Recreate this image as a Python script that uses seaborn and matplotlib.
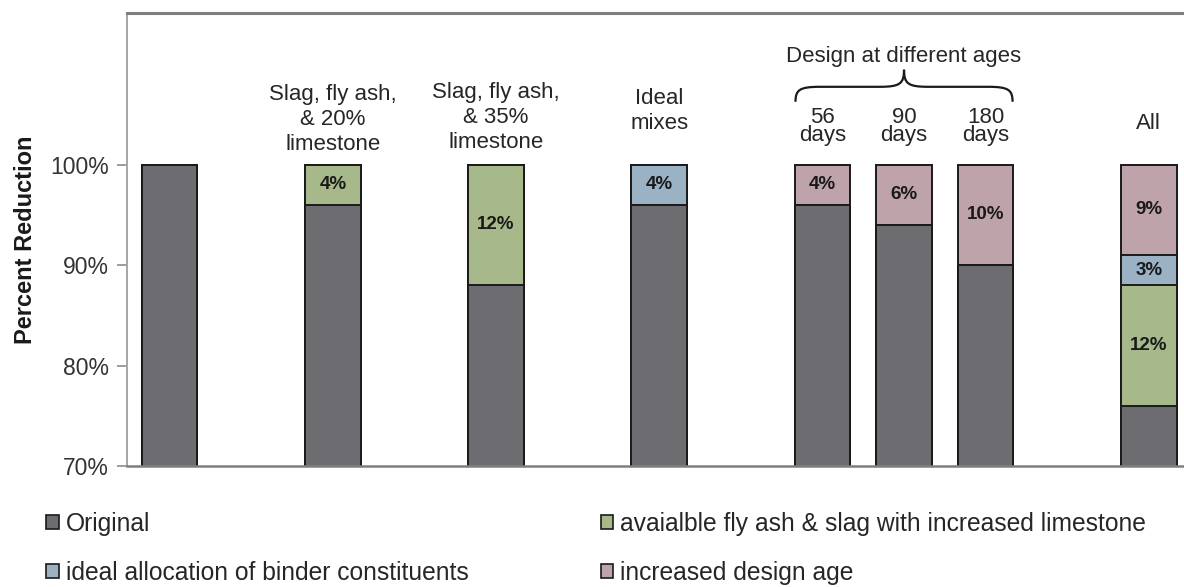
import matplotlib
matplotlib.use("Agg")
import matplotlib.pyplot as plt
from matplotlib.path import Path
from matplotlib.patches import PathPatch, Patch
from matplotlib.ticker import FuncFormatter
import numpy as np
import pandas as pd
import seaborn as sns

# ---- data -------------------------------------------------------------
positions = [0, 2, 4, 6, 8, 9, 10, 12]
group_labels = ["", "Slag, fly ash,\n& 20%\nlimestone", "Slag, fly ash,\n& 35%\nlimestone",
                "Ideal\nmixes", "56\ndays", "90\ndays", "180\ndays", "All"]
original = [100, 96, 88, 96, 96, 94, 90, 76]
fly_ash_slag = [0, 4, 12, 0, 0, 0, 0, 12]
ideal_alloc = [0, 0, 0, 4, 0, 0, 0, 3]
design_age = [0, 0, 0, 0, 4, 6, 10, 9]
series_names = ["Original", "avaialble fly ash & slag with increased limestone",
                "ideal allocation of binder constituents", "increased design age"]
yticks = [70, 80, 90, 100]
bracket_title = "Design at different ages"

# ---- style ------------------------------------------------------------
sns.set_theme(style="white")
plt.rcParams["font.family"] = ["Liberation Sans", "DejaVu Sans"]
plt.rcParams["text.color"] = "#262626"

colors = {
    "Original": "#6d6c71",
    "fly": "#a7b98a",
    "ideal": "#9ab2c3",
    "age": "#bfa3aa",
}

df = pd.DataFrame({
    "pos": positions,
    "original": original,
    "fly": fly_ash_slag,
    "ideal": ideal_alloc,
    "age": design_age,
})
df["c1"] = df["original"]
df["c2"] = df["c1"] + df["fly"]
df["c3"] = df["c2"] + df["ideal"]
df["c4"] = df["c3"] + df["age"]

fig = plt.figure(figsize=(11.84, 5.87), dpi=100)
ax = fig.add_axes([0.107, 0.2061, 0.895, 0.7718])

# stacked bars: draw cumulative totals from the top layer down
layers = [("c4", colors["age"]), ("c3", colors["ideal"]),
          ("c2", colors["fly"]), ("c1", colors["Original"])]
for col, colr in layers:
    sns.barplot(data=df, x="pos", y=col, native_scale=True, color=colr,
                edgecolor="#1a1a1a", linewidth=1.4, width=0.68,
                errorbar=None, saturation=1, ax=ax)

ax.set_xlim(-0.526, 12.46)
ax.set_ylim(70, 115.1)
ax.set_xticks([])
ax.set_xlabel("")
ax.set_yticks(yticks)
ax.yaxis.set_major_formatter(FuncFormatter(lambda v, _: f"{v:.0f}%"))
ax.tick_params(axis="y", labelsize=16.5, labelcolor="#333333", left=True,
               length=7, width=1.2, color="#8c8c8c", pad=6, direction="out")
ax.set_ylabel("Percent Reduction", fontsize=17, fontweight="bold",
              color="#1a1a1a", labelpad=9)

ax.spines["right"].set_visible(False)
ax.spines["left"].set_color("#a6a6a6")
ax.spines["left"].set_linewidth(1.4)
ax.spines["top"].set_color("#7f7f7f")
ax.spines["top"].set_linewidth(2.2)
ax.spines["bottom"].set_color("#7f7f7f")
ax.spines["bottom"].set_linewidth(1.8)

# segment value labels
for _, r in df.iterrows():
    for seg, lo in (("fly", "c1"), ("ideal", "c2"), ("age", "c3")):
        v = r[seg]
        if v > 0:
            ax.text(r["pos"], r[lo] + v / 2, f"{v:.0f}%", ha="center", va="center",
                    fontsize=13.5, fontweight="bold", color="#1a1a1a")

# group captions above the bars
caption_layout = {
    1: (101.5, 1.25), 2: (101.7, 1.25), 3: (103.5, 1.3),
    4: (102.4, 0.8), 5: (102.4, 0.8), 6: (102.4, 0.8), 7: (103.5, 1.0),
}
for i, lab in enumerate(group_labels):
    if not lab:
        continue
    y, ls = caption_layout[i]
    ax.text(positions[i], y, lab, ha="center", va="baseline", fontsize=16,
            linespacing=ls, color="#262626")

# curly brace spanning the design-age bars
xl, xr, xm = 7.67, 10.33, 9.0
yb, yh, yt = 106.26, 107.75, 109.45
verts = [
    (xl, yb), (xl, yh - 0.3), (xl + 0.05, yh), (xl + 0.3, yh),
    (xm - 0.3, yh),
    (xm - 0.05, yh), (xm, yh + 0.3), (xm, yt),
    (xm, yh + 0.3), (xm + 0.05, yh), (xm + 0.3, yh),
    (xr - 0.3, yh),
    (xr - 0.05, yh), (xr, yh - 0.3), (xr, yb),
]
codes = [Path.MOVETO, Path.CURVE4, Path.CURVE4, Path.CURVE4,
         Path.LINETO,
         Path.CURVE4, Path.CURVE4, Path.CURVE4,
         Path.CURVE4, Path.CURVE4, Path.CURVE4,
         Path.LINETO,
         Path.CURVE4, Path.CURVE4, Path.CURVE4]
ax.add_patch(PathPatch(Path(verts, codes), fill=False, lw=1.6,
                       edgecolor="#1a1a1a", clip_on=False))
ax.text(xm, 110.2, bracket_title, ha="center", va="baseline", fontsize=16,
        color="#262626")

# legend
legend_colors = [colors["Original"], colors["fly"], colors["ideal"], colors["age"]]
handles = [Patch(facecolor=c, edgecolor="#1a1a1a", linewidth=1.2) for c in legend_colors]
order = [0, 2, 1, 3]
fig.legend([handles[i] for i in order], [series_names[i] for i in order],
           loc="upper left", bbox_to_anchor=(0.039, 0.128), ncol=2, frameon=False,
           fontsize=17.75, handlelength=0.5, handleheight=0.5, handletextpad=0.3,
           columnspacing=5.35, labelspacing=1.02, borderpad=0, borderaxespad=0)

fig.savefig("out.png", dpi=100)
